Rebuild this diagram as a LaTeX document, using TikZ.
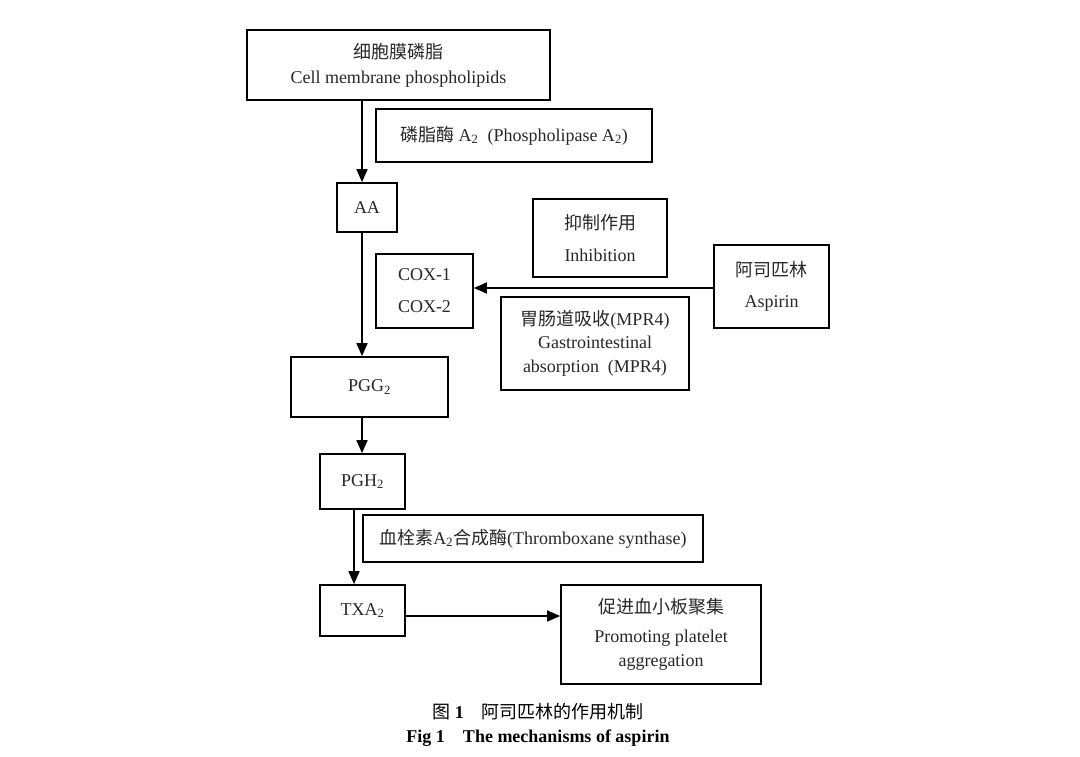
\documentclass[tikz,border=0pt]{standalone}
\usepackage{fontspec}
\setmainfont{Liberation Serif}
\newfontfamily\cjk{Noto Sans CJK SC}
\usetikzlibrary{arrows.meta,calc}
\definecolor{txt}{RGB}{40,40,40}
\begin{document}
\begin{tikzpicture}[x=1pt,y=-1pt,
  box/.style={draw=black, line width=1.7pt, rectangle, inner sep=0pt, align=center, text=txt,
              font=\fontsize{18}{23}\selectfont},
  arr/.style={-{Triangle[length=13pt,width=11pt]}, line width=1.7pt, draw=black},
  captext/.style={inner sep=0pt, text=black, font=\fontsize{18}{23}\selectfont}]
\useasboundingbox[fill=white] (0,0) rectangle (1080,757);

\node[box, minimum width=303pt, minimum height=70pt] (cell) at (398.5,65)
  {{\cjk 细胞膜磷脂}\\[2pt]Cell membrane phospholipids};
\node[box, minimum width=276pt, minimum height=53pt] (pla) at (514,135.5)
  {{\cjk 磷脂酶} A\textsubscript{2}\ \ (Phospholipase A\textsubscript{2})};
\node[box, minimum width=60pt, minimum height=49pt] (aa) at (367,207.5) {AA};
\node[box, minimum width=134pt, minimum height=78pt] (inh) at (600,238)
  {{\cjk 抑制作用}\\[9pt]Inhibition};
\node[box, minimum width=97pt, minimum height=74pt] (cox) at (424.5,291)
  {COX-1\\[9pt]COX-2};
\node[box, minimum width=115pt, minimum height=83pt] (asp) at (771.5,286.5)
  {{\cjk 阿司匹林}\\[8pt]Aspirin};
\node[box, minimum width=188pt, minimum height=93pt] (gi) at (595,343.5)
  {{\cjk 胃肠道吸收}(MPR4)\\[0pt]Gastrointestinal\\[1pt]absorption\ \ (MPR4)};
\node[box, minimum width=157pt, minimum height=60pt] (pgg) at (369.5,387) {PGG\textsubscript{2}};
\node[box, minimum width=85pt, minimum height=55pt] (pgh) at (362.5,481.5) {PGH\textsubscript{2}};
\node[box, minimum width=340pt, minimum height=47pt] (thr) at (533,538.5)
  {{\cjk 血栓素}A\textsubscript{2}{\cjk 合成酶}(Thromboxane synthase)};
\node[box, minimum width=85pt, minimum height=51pt] (txa) at (362.5,610.5) {TXA\textsubscript{2}};
\node[box, minimum width=200pt, minimum height=99pt] (plt) at (661,634.5)
  {{\cjk 促进血小板聚集}\\[6pt]Promoting platelet\\[1pt]aggregation};

\coordinate (ta) at (362,0);
\coordinate (tb) at (354,0);
\coordinate (tc) at (0,288);
\coordinate (td) at (0,616);
\draw[arr] (cell.south -| ta) -- (aa.north -| ta);
\draw[arr] (aa.south -| ta) -- (pgg.north -| ta);
\draw[arr] (pgg.south -| ta) -- (pgh.north -| ta);
\draw[arr] (pgh.south -| tb) -- (txa.north -| tb);
\draw[arr] (asp.west |- tc) -- (cox.east |- tc);
\draw[arr] (txa.east |- td) -- (plt.west |- td);

\node[captext] (cap1) at (538,712) {{\cjk 图} {\bfseries 1}\hspace{1em}{\cjk 阿司匹林的作用机制}};
\node[captext] (cap2) at (538,738) {\bfseries Fig 1\hspace{1em}The mechanisms of aspirin};
\end{tikzpicture}
\end{document}
